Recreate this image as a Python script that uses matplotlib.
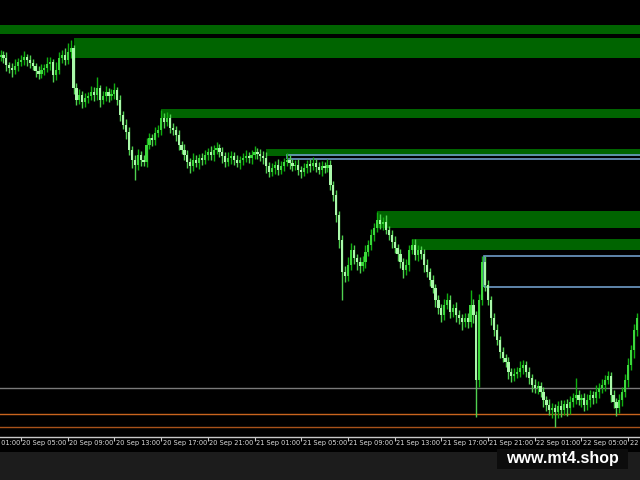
import numpy as np
import pandas as pd
import matplotlib
matplotlib.use('Agg')
import matplotlib.pyplot as plt
from matplotlib.patches import Rectangle
from matplotlib.transforms import blended_transform_factory

# M15 candles, price in points
first_time = '2023-09-20 03:15'
first_open = 383
closes = [385, 382, 375, 372, 370, 374, 378, 380, 383, 380,
          377, 374, 369, 366, 370, 372, 376, 378, 365, 370,
          382, 385, 380, 388, 392, 352, 340, 345, 338, 342,
          344, 348, 345, 352, 340, 344, 348, 344, 346, 350,
          340, 325, 315, 308, 290, 280, 275, 285, 280, 278,
          295, 302, 300, 307, 310, 322, 318, 322, 312, 310,
          305, 295, 290, 285, 278, 274, 280, 277, 282, 280,
          285, 288, 285, 290, 292, 288, 284, 278, 282, 284,
          280, 277, 280, 282, 284, 282, 285, 288, 286, 284,
          282, 274, 268, 272, 275, 270, 274, 278, 280, 277,
          274, 275, 270, 268, 272, 276, 274, 277, 273, 270,
          274, 272, 275, 255, 245, 225, 200, 168, 164, 175,
          190, 182, 178, 174, 178, 188, 195, 205, 212, 220,
          216, 218, 210, 205, 198, 192, 186, 178, 170, 175,
          190, 195, 185, 190, 186, 175, 168, 160, 152, 140,
          132, 125, 135, 140, 128, 132, 125, 122, 118, 122,
          118, 135, 125, 60, 140, 178, 155, 140, 122, 110,
          100, 88, 82, 78, 68, 64, 66, 68, 72, 75,
          68, 62, 55, 52, 54, 48, 40, 35, 30, 32,
          28, 34, 30, 36, 32, 38, 42, 45, 40, 42,
          35, 40, 45, 42, 48, 52, 55, 60, 64, 45,
          38, 32, 40, 48, 60, 75, 90, 110, 122]
wick_up = [5, 4, 6, 3, 5, 7, 4, 5, 6, 3,
           5, 4, 3, 5, 6, 4, 7, 5, 3, 8,
           6, 5, 7, 9, 8, 3, 5, 6, 4, 5,
           4, 6, 5, 11, 3, 5, 6, 4, 5, 7,
           3, 5, 4, 6, 5, 4, 5, 6, 4, 5,
           7, 5, 4, 6, 5, 8, 5, 6, 4, 5,
           4, 5, 4, 6, 5, 4, 7, 5, 4, 5,
           5, 4, 6, 5, 6, 4, 5, 4, 6, 5,
           4, 5, 4, 5, 6, 4, 5, 6, 4, 5,
           5, 6, 4, 5, 4, 6, 5, 4, 7, 5,
           4, 5, 6, 4, 5, 4, 5, 6, 4, 5,
           5, 4, 6, 5, 4, 5, 4, 5, 6, 8,
           7, 5, 4, 5, 6, 7, 5, 6, 5, 8,
           6, 5, 7, 4, 5, 6, 4, 5, 4, 6,
           5, 6, 6, 5, 4, 5, 6, 4, 5, 4,
           5, 4, 6, 7, 5, 4, 6, 5, 4, 5,
           5, 15, 6, 4, 6, 6, 6, 5, 4, 5,
           6, 4, 5, 4, 5, 4, 6, 5, 7, 5,
           4, 5, 4, 6, 5, 4, 5, 4, 6, 5,
           4, 5, 6, 4, 5, 6, 5, 17, 5, 4,
           5, 6, 5, 4, 7, 5, 6, 5, 5, 4,
           5, 4, 6, 5, 6, 7, 5, 6, 5]
wick_dn = [4, 5, 6, 5, 7, 4, 5, 4, 5, 6,
           5, 4, 6, 5, 4, 5, 4, 6, 7, 5,
           4, 5, 5, 4, 6, 6, 5, 4, 6, 5,
           5, 4, 6, 5, 7, 4, 5, 6, 4, 5,
           5, 6, 4, 7, 5, 8, 15, 5, 6, 4,
           5, 4, 6, 5, 4, 5, 6, 4, 5, 5,
           6, 5, 4, 5, 6, 7, 5, 4, 6, 5,
           4, 5, 5, 6, 4, 5, 7, 5, 4, 6,
           5, 4, 6, 5, 4, 5, 6, 4, 5, 5,
           6, 7, 5, 4, 6, 5, 4, 5, 4, 6,
           5, 4, 5, 6, 4, 5, 6, 4, 5, 4,
           6, 5, 4, 5, 6, 7, 8, 28, 6, 5,
           5, 6, 8, 7, 5, 6, 4, 5, 6, 4,
           5, 6, 4, 5, 6, 5, 7, 6, 8, 5,
           6, 4, 5, 6, 5, 7, 5, 6, 5, 7,
           6, 7, 5, 4, 6, 5, 7, 6, 8, 5,
           6, 5, 8, 37, 7, 5, 6, 5, 7, 6,
           5, 6, 4, 5, 7, 6, 5, 4, 5, 6,
           5, 6, 7, 5, 6, 5, 7, 6, 5, 8,
           15, 6, 7, 5, 8, 6, 5, 6, 5, 7,
           6, 5, 7, 6, 5, 6, 5, 6, 4, 7,
           6, 8, 5, 6, 5, 7, 5, 8, 6]

# supply zones (start candle, top, bottom)
zone_start = [-5, 25, 55, 91, 129, 141]
zone_top = [415, 402, 331, 291, 229, 201]
zone_bot = [406, 382, 322, 284, 212, 190]

# outlined boxes
box_start = [98, 165.5]
box_top = [285, 184]
box_bot = [281, 153]

gray_level = 52
orange_levels = [26, 13]

tick_labels = ['20 Sep 01:00', '20 Sep 05:00', '20 Sep 09:00', '20 Sep 13:00',
               '20 Sep 17:00', '20 Sep 21:00', '21 Sep 01:00', '21 Sep 05:00',
               '21 Sep 09:00', '21 Sep 13:00', '21 Sep 17:00', '21 Sep 21:00',
               '22 Sep 01:00', '22 Sep 05:00', '22 Sep 09:00']

closes = np.array(closes, dtype=float)
opens = np.r_[first_open, closes[:-1]]
highs = np.maximum(opens, closes) + np.array(wick_up)
lows = np.minimum(opens, closes) - np.array(wick_dn)
idx = np.arange(len(closes))
bear = closes < opens
body_col = np.where(bear, '#aaf8aa', '#3cd83c')
wick_col = np.where(bear, '#50d050', '#10b010')

t0 = pd.Timestamp(first_time)
tick_pos = [(pd.Timestamp('2023 ' + s) - t0) / pd.Timedelta('15min') for s in tick_labels]

fig = plt.figure(figsize=(6.4, 4.8), dpi=100, facecolor='black')
# bottom grey band
fig.patches.append(Rectangle((0, 0), 1, 28 / 480, transform=fig.transFigure,
                             facecolor='#1c1c1c', edgecolor='none', zorder=0))
ax = fig.add_axes([0, 43 / 480, 1, 437 / 480])
ax.set_facecolor('black')

xr = 230
for s, t, b in zip(zone_start, zone_top, zone_bot):
    ax.add_patch(Rectangle((s, b), xr - s, t - b, facecolor='#006400', edgecolor='none', zorder=1))
for s, t, b in zip(box_start, box_top, box_bot):
    ax.add_patch(Rectangle((s, b), xr - s, t - b, facecolor='none', edgecolor='#6f9cc8',
                           linewidth=1.2, zorder=2))

ax.axhline(gray_level, color='#7a7a7a', lw=1, zorder=2)
ax.axhline(orange_levels[0], color='#c8641e', lw=1, zorder=2)
ax.axhline(orange_levels[1], color='#a8521a', lw=1, zorder=2)

ax.vlines(idx, lows, highs, colors=wick_col, linewidth=1.0, zorder=3)
ax.bar(idx, np.maximum(np.abs(closes - opens), 1), bottom=np.minimum(opens, closes),
       width=0.75, color=body_col, linewidth=0, zorder=4)

for sp in ['top', 'left', 'right']:
    ax.spines[sp].set_visible(False)
ax.spines['bottom'].set_color('#c8c8c8')
ax.spines['bottom'].set_linewidth(1)
ax.set_yticks([])
ax.set_xticks(tick_pos)
ax.set_xticklabels([])
ax.tick_params(axis='x', direction='out', length=3, color='#c8c8c8', width=0.8)
# limits after ticks so the off-screen 01:00 tick does not widen the view
ax.set_xlim(-0.19, 219.06)
ax.set_ylim(3, 440)

trans = blended_transform_factory(ax.transData, ax.transAxes)
for p, lab in zip(tick_pos, tick_labels):
    ax.text(p + 0.5, -0.0075, lab, transform=trans, ha='left', va='top', fontsize=4.8,
            color='#dcdcdc', family=['Liberation Sans Narrow', 'DejaVu Sans'], clip_on=False)

# watermark
fig.patches.append(Rectangle((497 / 640, 11 / 480), 131 / 640, 20 / 480, transform=fig.transFigure,
                             facecolor='#0c0c0c', edgecolor='none', zorder=5))
fig.text(562 / 640, 22 / 480, 'www.mt4.shop', ha='center', va='center', fontsize=11.5,
         fontweight='bold', color='white', family=['Liberation Sans', 'DejaVu Sans'], zorder=6)

fig.savefig('out.png', dpi=100, facecolor='black')
